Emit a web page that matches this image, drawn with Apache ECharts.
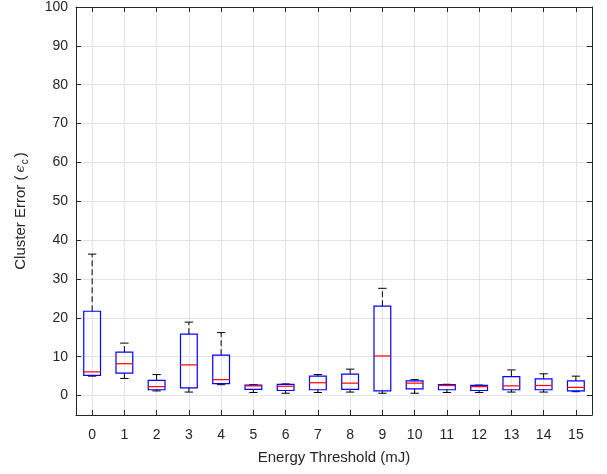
<!DOCTYPE html>
<html><head><meta charset="utf-8">
<script src="https://cdn.jsdelivr.net/npm/echarts@6/dist/echarts.min.js"></script>
<style>html,body{margin:0;padding:0;background:#fff}#c{width:607px;height:474px}</style>
</head><body><div id="c"></div>
<script>
const categories = ['0','1','2','3','4','5','6','7','8','9','10','11','12','13','14','15'];
const whiskerLow = [5.0, 4.4, 1.2, 0.9, 2.8, 0.8, 0.6, 0.8, 0.9, 0.6, 0.6, 0.8, 0.8, 0.9, 0.9, 1.0];
const q1         = [5.2, 5.8, 1.5, 2.0, 3.1, 1.6, 1.3, 1.5, 1.6, 1.2, 1.7, 1.5, 1.3, 1.5, 1.5, 1.2];
const medians    = [6.1, 8.2, 2.3, 7.9, 4.1, 2.5, 2.4, 3.3, 3.2, 10.2, 3.2, 2.6, 2.3, 2.5, 2.6, 2.1];
const q3         = [21.7, 11.2, 3.9, 15.8, 10.4, 2.7, 2.9, 5.0, 5.5, 23.0, 3.8, 2.8, 2.6, 4.9, 4.3, 3.8];
const whiskerHigh= [36.4, 13.5, 5.4, 18.9, 16.2, 2.8, 3.0, 5.4, 6.8, 27.6, 4.1, 2.9, 2.7, 6.6, 5.6, 5.0];
const yTicks = [0,10,20,30,40,50,60,70,80,90,100];

const data = categories.map((c, i) => [i, whiskerLow[i], q1[i], medians[i], q3[i], whiskerHigh[i]]);

const FONT = '"Liberation Sans", Arial, Helvetica, sans-serif';
const AX = '#262626';
const GRID = '#e3e3e3';

function renderItem(params, api) {
  const x = api.value(0);
  const lo = api.coord([x, api.value(1)]);
  const b1 = api.coord([x, api.value(2)]);
  const md = api.coord([x, api.value(3)]);
  const b3 = api.coord([x, api.value(4)]);
  const hi = api.coord([x, api.value(5)]);
  const bw = api.size([1, 0])[0] * 0.52;
  const cw = bw * 0.5;
  const cx = lo[0];
  const wStyle = {stroke: '#000', lineWidth: 1, lineDash: [6, 3], fill: null};
  const cStyle = {stroke: '#000', lineWidth: 1, fill: null};
  return {
    type: 'group',
    children: [
      {type: 'line', shape: {x1: cx, y1: b3[1], x2: cx, y2: hi[1]}, style: wStyle},
      {type: 'line', shape: {x1: cx, y1: b1[1], x2: cx, y2: lo[1]}, style: wStyle},
      {type: 'line', shape: {x1: cx - cw/2, y1: hi[1], x2: cx + cw/2, y2: hi[1]}, style: cStyle},
      {type: 'line', shape: {x1: cx - cw/2, y1: lo[1], x2: cx + cw/2, y2: lo[1]}, style: cStyle},
      {type: 'rect', shape: {x: cx - bw/2, y: b3[1], width: bw, height: b1[1] - b3[1]}, style: {stroke: '#0000ff', lineWidth: 1.2, fill: 'rgba(255,255,255,0)'}},
      {type: 'line', shape: {x1: cx - bw/2, y1: md[1], x2: cx + bw/2, y2: md[1]}, style: {stroke: '#ff0000', lineWidth: 1.2}}
    ]
  };
}

const chart = echarts.init(document.getElementById('c'), null, {renderer: 'canvas'});
const xBase = {
  type: 'category', data: categories, boundaryGap: true,
  axisLine: {show: true, onZero: false, lineStyle: {color: AX, width: 1}},
  axisTick: {show: true, inside: true, alignWithLabel: true, length: 5, lineStyle: {color: AX}},
};
const yBase = {
  type: 'value', min: -5, max: 100,
  axisLine: {show: true, onZero: false, lineStyle: {color: AX, width: 1}},
  axisTick: {show: true, inside: true, length: 5, customValues: yTicks, lineStyle: {color: AX}},
};
chart.setOption({
  animation: false,
  backgroundColor: '#fff',
  grid: {left: 76, right: 15, top: 6, bottom: 59, containLabel: false},
  xAxis: [
    Object.assign({}, xBase, {
      position: 'bottom',
      name: 'Energy Threshold (mJ)', nameLocation: 'middle', nameGap: 35,
      nameTextStyle: {fontFamily: FONT, fontSize: 15, color: AX},
      axisLabel: {show: true, fontFamily: FONT, fontSize: 14, color: AX, margin: 13},
      splitLine: {show: true, alignWithLabel: true, lineStyle: {color: GRID, width: 1}}
    }),
    Object.assign({}, xBase, {
      position: 'top', axisLabel: {show: false}, splitLine: {show: false}
    })
  ],
  yAxis: [
    Object.assign({}, yBase, {
      position: 'left',
      name: '{a|Cluster Error (}{e|ϵ}{b|c}{a|)}', nameLocation: 'middle', nameGap: 46,
      nameTextStyle: {fontFamily: FONT, fontSize: 15, color: AX,
        rich: {a: {fontFamily: FONT, fontSize: 15, color: AX},
               e: {fontFamily: '"DejaVu Serif", serif', fontStyle: 'italic', fontSize: 13, color: AX, padding: [0, 1, 0, 3]},
               b: {fontFamily: FONT, fontSize: 10, color: AX, verticalAlign: 'bottom', padding: [9, 2, 0, 0]}}},
      axisLabel: {show: true, fontFamily: FONT, fontSize: 14, color: AX, margin: 8, customValues: yTicks},
      splitLine: {show: true, lineStyle: {color: GRID, width: 1}}
    }),
    Object.assign({}, yBase, {
      position: 'right', axisLabel: {show: false}, splitLine: {show: false}
    })
  ],
  series: [{
    type: 'custom',
    xAxisIndex: 0, yAxisIndex: 0,
    renderItem: renderItem,
    encode: {x: 0, y: [1, 2, 3, 4, 5]},
    data: data,
    z: 5
  }]
});
</script>
</body></html>
